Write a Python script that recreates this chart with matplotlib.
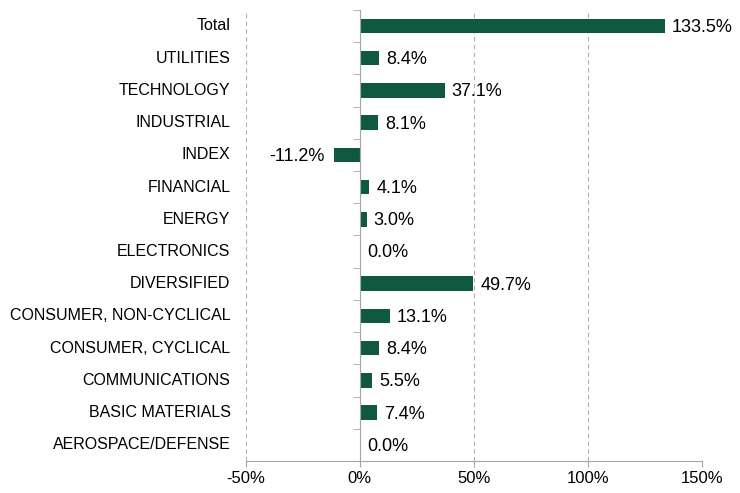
import numpy as np
import matplotlib.pyplot as plt
import matplotlib.transforms as mtransforms

plt.rcParams['font.family'] = ['Liberation Sans', 'DejaVu Sans']

# data, bottom to top
sectors = ['AEROSPACE/DEFENSE', 'BASIC MATERIALS', 'COMMUNICATIONS',
           'CONSUMER, CYCLICAL', 'CONSUMER, NON-CYCLICAL', 'DIVERSIFIED',
           'ELECTRONICS', 'ENERGY', 'FINANCIAL', 'INDEX', 'INDUSTRIAL',
           'TECHNOLOGY', 'UTILITIES', 'Total']
values = [0.0, 7.4, 5.5, 8.4, 13.1, 49.7, 0.0, 3.0, 4.1, -11.2, 8.1, 37.1, 8.4, 133.5]
xticks = [-50, 0, 50, 100, 150]

green = '#0f5a3f'
grey = '#a6a6a6'

fig = plt.figure(figsize=(7.4, 4.93), dpi=100)
ax = fig.add_axes([0.332, 0.065, 0.617, 0.915])

y = np.arange(len(sectors))
ax.barh(y, values, height=0.45, color=green, zorder=3)

ax.set_xlim(-50, 150)
ax.set_ylim(-0.5, len(sectors) - 0.5)
ax.set_xticks(xticks)
ax.set_xticklabels([f'{t}%' for t in xticks], fontsize=12)
ax.tick_params(axis='x', length=4, color=grey, pad=3)
ax.xaxis.grid(True, linestyle=(0, (4, 3)), color='#b0b0b0', linewidth=0.8)

for s in ['top', 'right']:
    ax.spines[s].set_visible(False)
ax.spines['bottom'].set_color(grey)
ax.spines['left'].set_position(('data', 0))
ax.spines['left'].set_color(grey)
ax.spines['left'].set_zorder(4)
ax.set_yticks(y)
ax.set_yticklabels([])
ax.tick_params(axis='y', which='major', length=0)
ax.set_yticks(np.arange(len(sectors) + 1) - 0.5, minor=True)
ax.tick_params(axis='y', which='minor', length=5, color=grey, direction='out')

# category labels at left of plot
trans = mtransforms.blended_transform_factory(ax.transAxes, ax.transData)
for yi, name in zip(y, sectors):
    ax.text(-0.033, yi, name, transform=trans, ha='right', va='center', fontsize=11.5)

# value labels
for yi, v in zip(y, values):
    if v < 0:
        ax.annotate(f'{v:.1f}%', (v, yi), xytext=(-7, -1), textcoords='offset points',
                    ha='right', va='center', fontsize=13)
    else:
        ax.annotate(f'{v:.1f}%', (v, yi), xytext=(5, -1), textcoords='offset points',
                    ha='left', va='center', fontsize=13)

fig.savefig('out.png', dpi=100)
